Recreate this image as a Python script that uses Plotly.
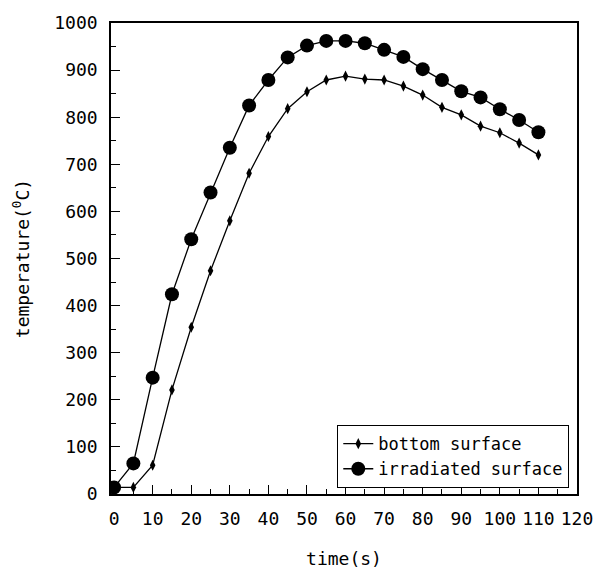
import plotly.graph_objects as go

time_s = [0, 5, 10, 15, 20, 25, 30, 35, 40, 45, 50, 55, 60, 65, 70, 75, 80, 85, 90, 95, 100, 105, 110]
bottom_surface = [14, 14, 61, 221, 354, 474, 580, 681, 759, 818, 854, 879, 887, 881, 879, 866, 847, 821, 805, 781, 767, 745, 720]
irradiated_surface = [14, 65, 247, 424, 541, 640, 735, 825, 879, 927, 952, 962, 962, 957, 943, 928, 902, 879, 855, 842, 817, 794, 768]

x_ticks = [0, 10, 20, 30, 40, 50, 60, 70, 80, 90, 100, 110, 120]
y_ticks = [0, 100, 200, 300, 400, 500, 600, 700, 800, 900, 1000]

FONT = "DejaVu Sans Mono"

fig = go.Figure()
fig.add_trace(go.Scatter(
    x=time_s, y=bottom_surface, name="bottom surface", mode="lines+markers",
    line=dict(color="black", width=1.3),
    marker=dict(symbol="diamond-tall", size=8, color="black"),
))
fig.add_trace(go.Scatter(
    x=time_s, y=irradiated_surface, name="irradiated surface", mode="lines+markers",
    line=dict(color="black", width=1.3),
    marker=dict(symbol="circle", size=14, color="black"),
))

axis_common = dict(
    showline=True, linecolor="black", linewidth=1.5, mirror=True,
    ticks="inside", ticklen=9, tickwidth=1.2, tickcolor="black",
    showgrid=False, zeroline=False, automargin=False,
    tickfont=dict(family=FONT, size=18, color="black"),
)

fig.update_layout(
    width=595, height=571,
    paper_bgcolor="white", plot_bgcolor="white",
    margin=dict(l=111, r=18, t=23, b=77),
    font=dict(family=FONT, color="black"),
    xaxis=dict(
        range=[-0.8, 120], tickvals=x_ticks, ticktext=[str(v) for v in x_ticks],
        minor=dict(dtick=5, ticks="inside", ticklen=5, tickcolor="black", tickwidth=1),
        title=dict(text="time(s)", font=dict(family=FONT, size=18), standoff=24),
        ticklabelstandoff=8,
        **axis_common,
    ),
    yaxis=dict(
        range=[0, 1000], tickvals=y_ticks, ticktext=[str(v) for v in y_ticks],
        minor=dict(dtick=50, ticks="inside", ticklen=5, tickcolor="black", tickwidth=1),
        title=dict(text="temperature(<sup>0</sup>C)", font=dict(family=FONT, size=18), standoff=20),
        ticklabelstandoff=8,
        **axis_common,
    ),
    legend=dict(
        x=0.983, y=0.013, xanchor="right", yanchor="bottom",
        bordercolor="black", borderwidth=1.2, bgcolor="white",
        font=dict(family=FONT, size=17, color="black"),
        tracegroupgap=0, itemwidth=30,
    ),
)

fig.write_html("out.html")
